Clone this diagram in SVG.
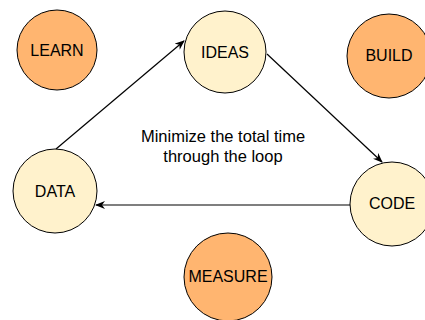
<svg xmlns="http://www.w3.org/2000/svg" width="425" height="320" viewBox="0 0 425 320">
<style>
.o{fill:#FFB570;stroke:#000;stroke-width:1}
.y{fill:#FFF2CC;stroke:#000;stroke-width:1}
text{font-family:"Liberation Sans",Arial,sans-serif;font-size:16px;fill:#000;text-anchor:middle;dominant-baseline:central}
.c{stroke:#000;stroke-width:1.2;fill:none;marker-end:url(#a)}
</style>
<defs>
<marker id="a" viewBox="0 0 10 8" refX="9" refY="4" markerWidth="10" markerHeight="8" markerUnits="userSpaceOnUse" orient="auto">
<path d="M0,0 L10,4 L0,8 L3,4 Z" fill="#000"/>
</marker>
</defs>
<g id="connectors">
<line class="c" x1="56" y1="149" x2="184" y2="41"/>
<line class="c" x1="267" y1="54" x2="382" y2="162"/>
<line class="c" x1="350" y1="205" x2="96" y2="205"/>
</g>
<g id="learn"><circle class="o" cx="57" cy="50" r="40"/><text x="57" y="50">LEARN</text></g>
<g id="ideas"><circle class="y" cx="225" cy="52" r="41"/><text x="225" y="52">IDEAS</text></g>
<g id="build"><circle class="o" cx="389" cy="56" r="42"/><text x="389" y="55">BUILD</text></g>
<g id="data"><circle class="y" cx="55" cy="191" r="42"/><text x="55" y="191">DATA</text></g>
<g id="code"><circle class="y" cx="392" cy="204" r="42"/><text x="392" y="203">CODE</text></g>
<g id="measure"><circle class="o" cx="228" cy="277" r="44"/><text x="228" y="276">MEASURE</text></g>
<g id="caption">
<text x="223" y="136" style="font-size:16.5px">Minimize the total time</text>
<text x="223" y="156" style="font-size:16.5px">through the loop</text>
</g>
</svg>
